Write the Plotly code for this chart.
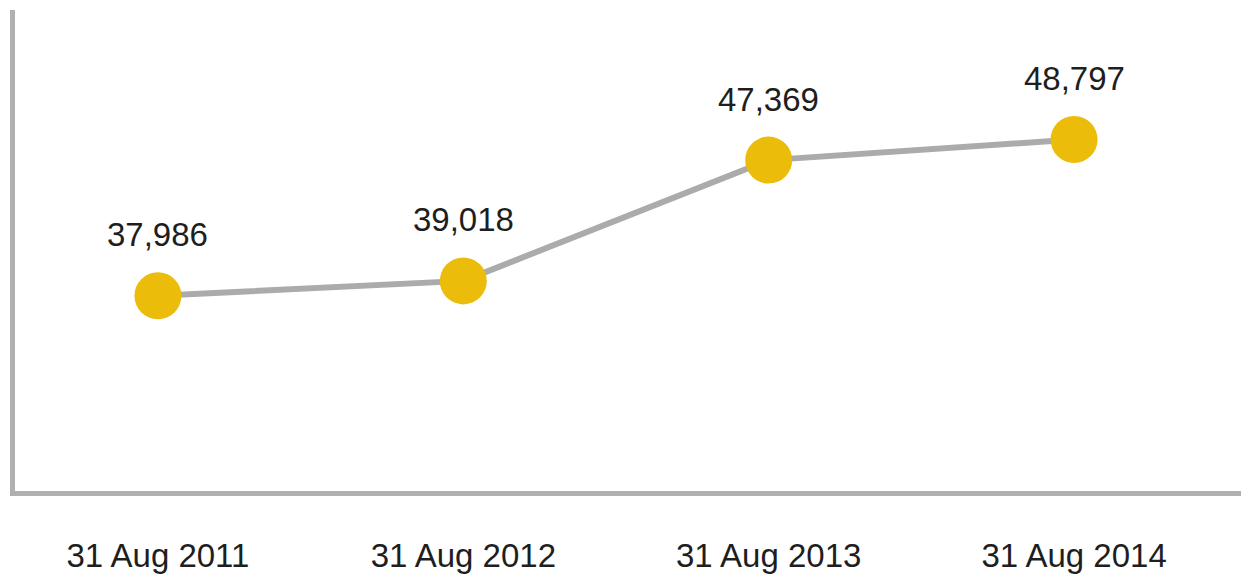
import plotly.graph_objects as go

dates = ["31 Aug 2011", "31 Aug 2012", "31 Aug 2013", "31 Aug 2014"]
values = [37986, 39018, 47369, 48797]
labels = ["37,986", "39,018", "47,369", "48,797"]

FONT = "Liberation Sans, Arial, Helvetica, sans-serif"

fig = go.Figure()
fig.add_trace(go.Scatter(
    x=dates, y=values, mode="lines+markers",
    line=dict(color="#ababab", width=6),
    marker=dict(size=47, color="#ecbc0a", line=dict(width=0)),
    hoverinfo="skip", showlegend=False,
))
for d, v, t in zip(dates, values, labels):
    fig.add_annotation(x=d, y=v, text=t, showarrow=False, yshift=61,
                       font=dict(size=33, color="#1e1e1e", family=FONT))

fig.update_layout(
    width=1249, height=576,
    margin=dict(l=7, r=0, t=2, b=93),
    paper_bgcolor="white", plot_bgcolor="white",
    font=dict(family=FONT, size=33, color="#1e1e1e"),
)
fig.update_xaxes(type="category", range=[-0.468, 3.599], showline=True, linecolor="#b0b0b0",
                 linewidth=5, showgrid=False, zeroline=False, ticks="outside", ticklen=31,
                 tickcolor="rgba(0,0,0,0)", tickfont=dict(size=33))
fig.update_yaxes(range=[24489, 57749], showline=True, linecolor="#b0b0b0", linewidth=5,
                 showgrid=False, zeroline=False, showticklabels=False, ticks="")

fig.write_html("out.html")
